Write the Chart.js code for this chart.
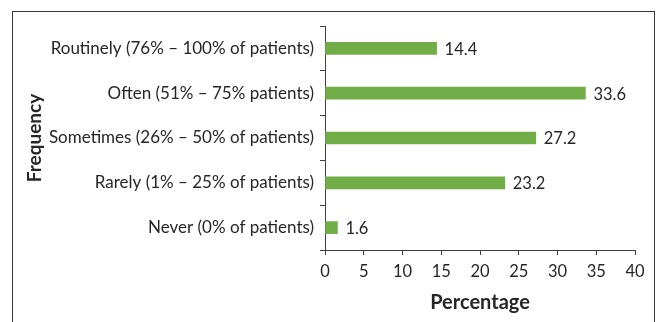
<!DOCTYPE html>
<html>
<head>
<meta charset="utf-8">
<script src="https://cdn.jsdelivr.net/npm/chart.js@4.4.1/dist/chart.umd.min.js"></script>
<style>
  html, body { margin: 0; padding: 0; background: #fff; overflow: hidden; }
  #wrap { position: relative; width: 657px; height: 322px; overflow: hidden; }
  #frame { position: absolute; left: 12px; top: 11px; width: 643px; height: 400px;
           border: 1px solid #3a3a3a; box-sizing: border-box; pointer-events: none; }
  canvas { position: absolute; left: 0; top: 0; }
</style>
</head>
<body>
<div id="wrap">
  <div id="frame"></div>
  <canvas id="c" width="657" height="322"></canvas>
</div>
<script>
// Frequency categories, top to bottom
const categories = [
  'Routinely (76% \u2013 100% of patients)',
  'Often (51% \u2013 75% patients)',
  'Sometimes (26% \u2013 50% of patients)',
  'Rarely (1% \u2013 25% of patients)',
  'Never (0% of patients)'
];
// Share of respondents in each category (%)
const percentages = [14.4, 33.6, 27.2, 23.2, 1.6];
// Value axis range and step
const xMin = 0;
const xMax = 40;
const xStep = 5;

const TEXT = '#262626';
const AXIS = '#404040';
const FONT = 'Lato, "Open Sans", sans-serif';

// Writes each bar's value just past its end
const valueLabels = {
  id: 'valueLabels',
  afterDatasetsDraw(chart) {
    const ctx = chart.ctx;
    const meta = chart.getDatasetMeta(0);
    ctx.save();
    ctx.font = '16.5px ' + FONT;
    ctx.fillStyle = TEXT;
    ctx.textAlign = 'left';
    ctx.textBaseline = 'middle';
    meta.data.forEach((bar, i) => {
      ctx.fillText(String(percentages[i]), bar.x + 8, bar.y + 1);
    });
    ctx.restore();
  }
};

new Chart(document.getElementById('c'), {
  type: 'bar',
  data: {
    labels: categories,
    datasets: [{
      data: percentages,
      backgroundColor: '#70AD47',
      borderWidth: 0,
      barThickness: 12
    }]
  },
  options: {
    indexAxis: 'y',
    responsive: false,
    animation: false,
    layout: { padding: { left: 0, right: 22, top: 26, bottom: 0 } },
    plugins: { legend: { display: false }, tooltip: { enabled: false } },
    scales: {
      x: {
        min: xMin,
        max: xMax,
        ticks: { stepSize: xStep, color: TEXT, font: { family: FONT, size: 16.5 }, padding: 7 },
        grid: { drawOnChartArea: false, drawTicks: true, tickLength: 5, color: AXIS },
        border: { display: true, color: AXIS, width: 1 },
        title: {
          display: true, text: 'Percentage', color: TEXT,
          font: { family: FONT, size: 20, weight: 'bold' },
          padding: { top: 0, bottom: 7 }
        },
        afterFit(scale) { scale.height = 72; }
      },
      y: {
        ticks: { color: TEXT, font: { family: FONT, size: 17 }, padding: 6 },
        grid: { drawOnChartArea: false, drawTicks: true, tickLength: 5, color: AXIS, offset: true },
        border: { display: true, color: AXIS, width: 1 },
        title: {
          display: true, text: 'Frequency', color: TEXT,
          font: { family: FONT, size: 19, weight: 'bold' },
          padding: { top: 23, bottom: 0 }
        },
        afterFit(scale) { scale.width = 325; }
      }
    }
  },
  plugins: [valueLabels]
});
</script>
</body>
</html>
